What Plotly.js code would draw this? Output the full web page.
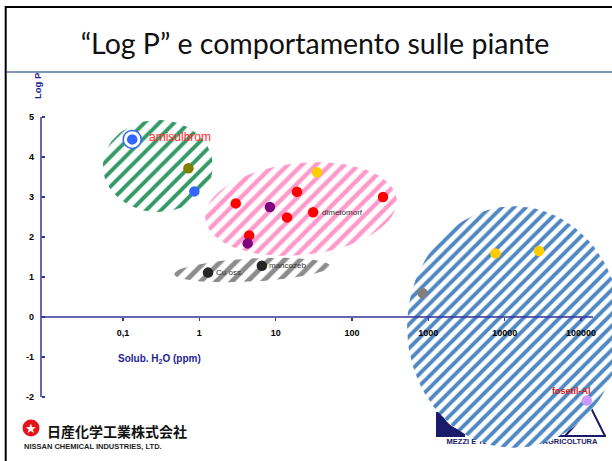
<!DOCTYPE html>
<html><head><meta charset="utf-8">
<script src="https://cdn.plot.ly/plotly-3.0.1.min.js"></script>
<style>html,body{margin:0;padding:0;background:#fff}#chart{width:612px;height:461px}</style>
</head><body><div id="chart"></div>
<script>
// ---------- data ----------
const compounds = ["amisulbrom","","","","","","","","dimetomorf","","","","Cu oss.","mancozeb","","","","fosetil-Al"];
const solubility = [0.132,0.72,0.86,34.8,3.0,8.4,19,14.1,31,255,4.5,4.3,1.3,6.6,7600,28200,840,119000];
const logP = [4.44,3.72,3.14,3.62,2.84,2.75,3.13,2.49,2.62,3.0,2.04,1.84,1.11,1.28,1.59,1.65,0.6,-2.09];
const classes = ["blu","oliva","blu","giallo","rosso","viola","rosso","rosso","rosso","rosso","rosso","viola","nero","nero","giallo","giallo","grigio","lilla"];
const xTickVals = [0.1,1,10,100,1000,10000,100000];
const xTickText = ["0,1","1","10","100","1000","10000","100000"];
const yTickVals = [-2,-1,0,1,2,3,4,5];
const yTickText = ["-2","-1","0","1","2","3","4","5"];
// behaviour regions (ellipses in data units: centre, half-width in decades, half-height in log P units)
const regionNames = ["verde","rosa","grigio","azzurro"];
const regionCenterSol = [0.287, 21.5, 4.9, 13240];
const regionCenterLogP = [3.775, 2.7, 1.175, -0.25];
const regionHalfDecades = [0.72, 1.26, 1.02, 1.40];
const regionHalfLogP = [1.15, 1.15, 0.29, 3.02];
const regionTilt = [0, 6, 3, 0];

// ---------- styles ----------
const W = 612, H = 461;
const xr = [-2.6114, 5.4064];
const yr = [-3.6, 7.925];
const classColor = {blu:"#3366ff", oliva:"#808000", giallo:"#ffcc00", rosso:"#ff0000", viola:"#800080", nero:"#262626", grigio:"#808080", lilla:"#cc99ff"};
const regionStyle = {
  verde:{color:"#339966", size:10.5, solidity:0.38},
  rosa:{color:"#ff99cc", size:10, solidity:0.45},
  grigio:{color:"#8c8c8c", size:11, solidity:0.45},
  azzurro:{color:"#4f87c2", size:8.5, solidity:0.45}
};
const labelStyle = {
  "amisulbrom": {xshift:15, yshift:2, xanchor:"left", size:12, color:"#ff2a2a", weight:"normal"},
  "dimetomorf": {xshift:7, yshift:0, xanchor:"left", size:8, color:"#333333", weight:"normal"},
  "Cu oss.": {xshift:6, yshift:0, xanchor:"left", size:8, color:"#333333", weight:"normal"},
  "mancozeb": {xshift:5, yshift:0, xanchor:"left", size:8, color:"#333333", weight:"normal"},
  "fosetil-Al": {xshift:-15, yshift:10, xanchor:"center", size:9, color:"#d91a1a", weight:"bold"}
};
const PXDEC = W/(xr[1]-xr[0]);
const PXUNIT = H/(yr[1]-yr[0]);
const fx = px => px/W, fy = py => 1-py/H;
const dataX = px => Math.pow(10, xr[0] + px/PXDEC);
const dataY = py => yr[1] - py/PXUNIT;

const traces = [];
// logo text that sits beneath the blue region
traces.push({x:[dataX(522)], y:[dataY(442.5)], mode:"text", text:["MEZZI E TECNICHE PER L'AGRICOLTURA"],
  textfont:{family:"Liberation Sans", size:7.5, color:"#1b1b6b", weight:"bold"}, cliponaxis:false, hoverinfo:"skip"});

regionNames.forEach((nm,i)=>{
  const xs=[], ys=[];
  const a = regionTilt[i]*Math.PI/180;
  for(let k=0;k<=96;k++){
    const t = 2*Math.PI*k/96;
    const u = regionHalfDecades[i]*Math.cos(t)*PXDEC;
    const v = regionHalfLogP[i]*Math.sin(t)*PXUNIT;
    const u2 = u*Math.cos(a) - v*Math.sin(a);
    const v2 = u*Math.sin(a) + v*Math.cos(a);
    xs.push(Math.pow(10, Math.log10(regionCenterSol[i]) + u2/PXDEC));
    ys.push(regionCenterLogP[i] + v2/PXUNIT);
  }
  const st = regionStyle[nm];
  traces.push({x:xs, y:ys, mode:"lines", line:{width:0, color:st.color}, fill:"toself",
    fillcolor:"rgba(0,0,0,0)",
    fillpattern:{shape:"/", fgcolor:st.color, bgcolor:"#ffffff", size:st.size, solidity:st.solidity},
    hoverinfo:"skip"});
});

// ring around amisulbrom
const ringIdx = compounds.map((c,i)=>c==="amisulbrom"?i:-1).filter(i=>i>=0);
traces.push({x:ringIdx.map(i=>solubility[i]), y:ringIdx.map(i=>logP[i]), mode:"markers",
  marker:{size:18, color:"#ffffff", line:{color:"#3366ff", width:1.5}}, hoverinfo:"skip"});
// compounds
traces.push({x:solubility, y:logP, mode:"markers", text:compounds,
  marker:{size:10.5, color:classes.map(c=>classColor[c]), line:{width:0}}, cliponaxis:false});

const annotations = [];
compounds.forEach((c,i)=>{
  if(!c) return;
  const s = labelStyle[c];
  annotations.push({x:Math.log10(solubility[i]), y:logP[i], xref:"x", yref:"y", text:c, showarrow:false,
    xanchor:s.xanchor, yanchor:"middle", xshift:s.xshift, yshift:s.yshift,
    font:{family:"Liberation Sans", size:s.size, color:s.color, weight:s.weight}});
});
annotations.push({xref:"paper", yref:"paper", x:fx(159), y:fy(359), text:"<b>Solub. H<sub>2</sub>O (ppm)</b>",
  showarrow:false, xanchor:"center", yanchor:"middle", font:{family:"Liberation Sans", size:10, color:"#1f1f9a"}});
annotations.push({xref:"paper", yref:"paper", x:fx(37), y:fy(86), text:"<b>Log P</b>", textangle:-90,
  showarrow:false, xanchor:"center", yanchor:"middle", font:{family:"Liberation Sans", size:9.5, color:"#1f1f9a"}});
// Nissan logo
annotations.push({xref:"paper", yref:"paper", x:fx(31), y:fy(428), text:"★", showarrow:false,
  xanchor:"center", yanchor:"middle", font:{family:"DejaVu Sans", size:13, color:"#ffffff"}});
annotations.push({xref:"paper", yref:"paper", x:fx(45), y:fy(431), text:"日産化学工業株式会社", showarrow:false,
  xanchor:"left", yanchor:"middle", font:{family:"Noto Sans CJK JP", size:14, color:"#111111", weight:"bold"}});
annotations.push({xref:"paper", yref:"paper", x:fx(22), y:fy(446), text:"NISSAN CHEMICAL INDUSTRIES, LTD.", showarrow:false,
  xanchor:"left", yanchor:"middle", font:{family:"Liberation Sans", size:7.5, color:"#222222", weight:"bold"}});

const navy = "#1b1b6b";
const P = (px,py)=> fx(px)+","+fy(py);
const shapes = [
  // slide border
  {type:"line", xref:"paper", yref:"paper", x0:fx(5.7), x1:fx(5.7), y0:fy(6), y1:fy(461), line:{color:"#000", width:2}},
  {type:"line", xref:"paper", yref:"paper", x0:fx(5), x1:fx(612), y0:fy(7), y1:fy(7), line:{color:"#000", width:2}},
  // title separator
  {type:"line", xref:"paper", yref:"paper", x0:fx(7), x1:fx(612), y0:fy(72), y1:fy(72), line:{color:"#7f98ba", width:2}},
  // axes
  {type:"line", xref:"paper", yref:"y", x0:fx(41), x1:fx(41), y0:-2, y1:5, line:{color:"#333399", width:1.5}},
  {type:"line", xref:"paper", yref:"y", x0:fx(41), x1:fx(593), y0:0, y1:0, line:{color:"#333399", width:1.5}},
  // Nissan red circle
  {type:"circle", xref:"paper", yref:"paper", x0:fx(22.5), x1:fx(39.5), y0:fy(419.5), y1:fy(436.5), fillcolor:"#e3141b", line:{width:0}},
  // right logo graphics (under the blue region)
  {type:"path", xref:"paper", yref:"paper", layer:"below", path:"M"+P(436,412)+" L"+P(442,412)+" Q"+P(446,428)+" "+P(465,430)+" L"+P(465,437)+" L"+P(436,437)+" Z", fillcolor:navy, line:{width:0}},
  {type:"path", xref:"paper", yref:"paper", layer:"below", path:"M"+P(565,436)+" L"+P(591,408)+" L"+P(605,436)+" M"+P(553,436)+" L"+P(606,436)+" M"+P(552,421)+" Q"+P(556,428)+" "+P(558,436), line:{color:navy, width:2}}
];

const layout = {
  width:W, height:H, margin:{l:0,r:0,t:0,b:0,pad:0}, paper_bgcolor:"#fff", plot_bgcolor:"#fff", showlegend:false,
  title:{text:"“Log P” e comportamento sulle piante", x:fx(315), y:fy(44), xanchor:"center", yanchor:"middle",
    font:{family:"Lato", size:28.5, color:"#111111"}},
  xaxis:{type:"log", range:xr, domain:[0,1], anchor:"free", position:1-317/H, showline:false, showgrid:false, zeroline:false,
    ticks:"outside", ticklen:3, tickwidth:1.5, tickcolor:"#333399", tickvals:xTickVals, ticktext:xTickText, ticklabelstandoff:4,
    tickfont:{family:"Liberation Sans", size:9, color:"#000", weight:"bold"}, automargin:false, fixedrange:true},
  yaxis:{range:yr, domain:[0,1], anchor:"free", position:41/W, showline:false, showgrid:false, zeroline:false,
    ticks:"inside", ticklen:3, tickwidth:1.5, tickcolor:"#333399", tickvals:yTickVals, ticktext:yTickText, ticklabelstandoff:7,
    tickfont:{family:"Liberation Sans", size:9, color:"#000", weight:"bold"}, automargin:false, fixedrange:true},
  shapes:shapes, annotations:annotations
};
Plotly.newPlot("chart", traces, layout, {displayModeBar:false, staticPlot:true});
</script></body></html>
